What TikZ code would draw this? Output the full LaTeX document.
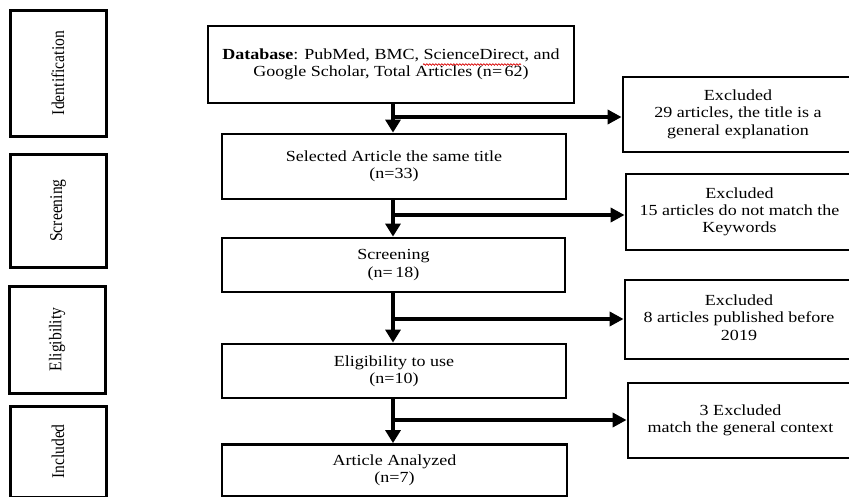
\documentclass[tikz,border=0pt]{standalone}
\usepackage{fontspec}
\usepackage{graphicx}
\newfontfamily\boxfont[FakeStretch=1.17]{Liberation Serif}
\newfontfamily\sidefont{Liberation Serif}
\usetikzlibrary{arrows.meta,decorations.pathmorphing}
\newcommand{\leftpad}[1]{\begin{tabular}{@{}c@{\hspace{47pt}}}#1\end{tabular}}
\begin{document}
\begin{tikzpicture}[x=1pt,y=-1pt,
  box/.style={draw=black,line width=2.8pt,fill=white,align=center,inner sep=0pt,
    font=\boxfont\fontsize{15.4}{17.4}\selectfont},
  sidebox/.style={draw=black,line width=3pt,fill=white,inner sep=0pt,
    minimum width=96pt},
  flow/.style={line width=4.2pt,-{Triangle[length=13pt,width=15pt]}},
  branch/.style={line width=4.2pt,-{Triangle[length=14pt,width=14pt]}},
  spellmark/.style={draw=red!85!black,line width=0.7pt,
    decorate,decoration={snake,amplitude=0.8pt,segment length=3pt}}]
\useasboundingbox (0,0) rectangle (849,496);
\clip (0,0) rectangle (849,496);
\fill[white] (0,0) rectangle (849,496);
% side stage boxes
\newcommand{\sidetext}[1]{\rotatebox{90}{\scalebox{1}[1.15]{\sidefont\fontsize{15.6}{18}\selectfont #1}}}
\node[sidebox,minimum height=126pt] (sid) at (58,73) {\sidetext{Identification}};
\node[sidebox,minimum height=113pt] (sscr) at (58,210.5) {\sidetext{Screening}};
\node[sidebox,minimum height=107pt] (selig) at (57,339.5) {\sidetext{Eligibility}};
\node[sidebox,minimum height=91pt] (sinc) at (58,451.5) {\sidetext{Included}};
% main flow boxes
\node[box,minimum width=366pt,minimum height=77pt] (db) at (391,64.5)
  {\textbf{Database}: PubMed, BMC, ScienceDirect, and\\Google Scholar, Total Articles (n=\,62)};
\node[box,minimum width=344pt,minimum height=65pt] (sel) at (394,166.5)
  {Selected Article the same title\\(n=33)};
\node[box,minimum width=343pt,minimum height=54pt] (scr) at (393.5,265)
  {Screening\\(n=\,18)};
\node[box,minimum width=344pt,minimum height=54pt] (elig) at (394,371)
  {Eligibility to use\\(n=10)};
\node[box,minimum width=345pt,minimum height=52pt] (ana) at (394.5,470.5)
  {Article Analyzed\\(n=7)};
% spell-check underline under "ScienceDirect"
\coordinate (sq1) at (423,64.5);
\coordinate (sq2) at (521,64.5);
\draw[spellmark] (sq1) -- (sq2);
% excluded boxes (right edges run past the picture)
\node[box,minimum width=277pt,minimum height=75pt] (ex1) at (761.5,114.5)
  {\leftpad{Excluded\\29 articles, the title is a\\general explanation}};
\node[box,minimum width=274pt,minimum height=76pt] (ex2) at (763,212)
  {\leftpad{Excluded\\15 articles do not match the\\Keywords}};
\node[box,minimum width=275pt,minimum height=79pt] (ex3) at (762.5,319.5)
  {\leftpad{Excluded\\8 articles published before\\2019}};
\node[box,minimum width=272pt,minimum height=75pt] (ex4) at (764,420.5)
  {\leftpad{3 Excluded\\match the general context}};
% branch points on the spine
\coordinate (b1) at (393,117);
\coordinate (b2) at (393,215);
\coordinate (b3) at (393,319);
\coordinate (b4) at (393,420);
% vertical flow
\draw[flow] (b1 |- db.south) -- (b1 |- sel.north);
\draw[flow] (b2 |- sel.south) -- (b2 |- scr.north);
\draw[flow] (b3 |- scr.south) -- (b3 |- elig.north);
\draw[flow] (b4 |- elig.south) -- (b4 |- ana.north);
% branches to excluded boxes
\draw[branch] ([xshift=-2pt]b1) -- (b1 -| ex1.west);
\draw[branch] ([xshift=-2pt]b2) -- (b2 -| ex2.west);
\draw[branch] ([xshift=-2pt]b3) -- (b3 -| ex3.west);
\draw[branch] ([xshift=-2pt]b4) -- (b4 -| ex4.west);
\end{tikzpicture}
\end{document}
